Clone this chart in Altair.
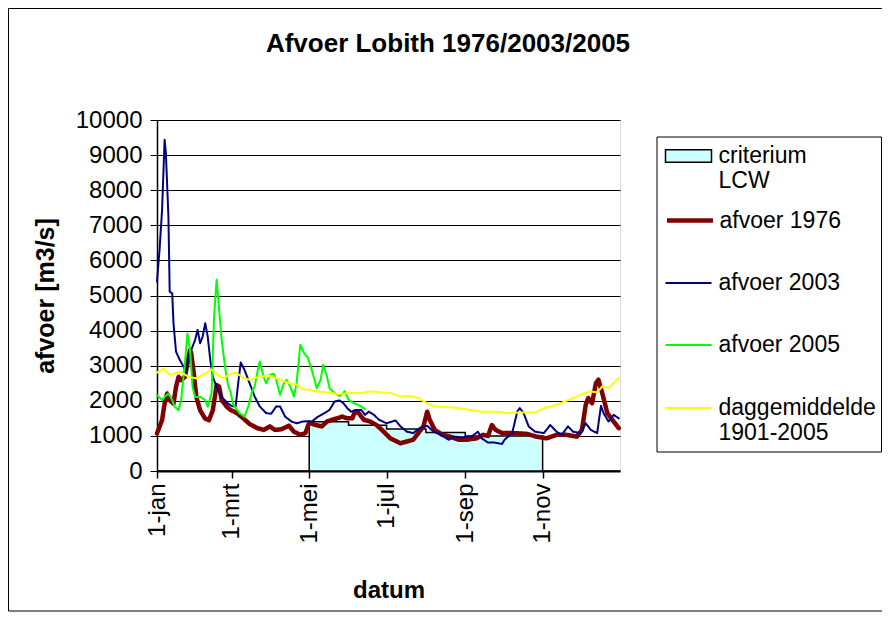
import altair as alt
import pandas as pd

# ---------------- data (day of year, 0 = 1 jan) ----------------
dag_1976 = [0, 4, 6, 8, 10, 13, 15, 17, 19, 22, 23, 26, 27, 29, 31, 34, 38, 41, 44, 47, 49, 51, 55, 58,
            63, 68, 73, 79, 84, 89, 93, 98, 104, 108, 113, 117, 120, 125, 130, 134, 138, 142, 146, 150,
            154, 156, 159, 163, 168, 173, 177, 184, 192, 197, 202, 206, 210, 213, 215, 219, 225, 231, 238,
            244, 252, 257, 261, 264, 267, 272, 281, 291, 299, 307, 315, 323, 331, 335, 338, 340, 343, 346,
            348, 351, 355, 360, 364]
afvoer_1976 = [1070, 1450, 1920, 2210, 2020, 1920, 2400, 2680, 2590, 2680, 2870, 3450, 3350, 2780, 2110,
               1730, 1490, 1450, 1730, 2450, 2400, 2020, 1830, 1740, 1650, 1500, 1340, 1220, 1170, 1270,
               1170, 1190, 1290, 1120, 1030, 1080, 1380, 1310, 1270, 1410, 1460, 1500, 1550, 1500, 1500,
               1690, 1650, 1460, 1410, 1310, 1180, 930, 790, 840, 890, 1080, 1270, 1690, 1460, 1170, 1030,
               980, 890, 890, 930, 1030, 1000, 1310, 1170, 1080, 1080, 1060, 980, 930, 1030, 1030, 980,
               1170, 1890, 2080, 1930, 2500, 2600, 2220, 1650, 1410, 1220]

dag_2003 = [0, 2, 4, 6, 7, 9, 10, 12, 13, 15, 18, 21, 23, 25, 27, 30, 32, 34, 36, 38, 40, 42, 44, 47, 51,
            56, 59, 62, 64, 66, 69, 73, 77, 81, 86, 90, 94, 97, 101, 106, 110, 115, 119, 122, 127, 132,
            136, 140, 144, 147, 150, 153, 157, 161, 164, 167, 171, 175, 181, 188, 192, 197, 202, 207, 213,
            218, 224, 230, 234, 240, 248, 253, 256, 261, 266, 272, 274, 280, 284, 286, 289, 293, 298, 305,
            310, 315, 319, 324, 328, 334, 338, 342, 347, 350, 352, 356, 360, 364]
afvoer_2003 = [5400, 6300, 7440, 9440, 9060, 7250, 5110, 5060, 4210, 3400, 3160, 2970, 2780, 3260, 3450,
               3730, 4020, 3640, 3830, 4210, 3830, 3160, 2680, 2400, 2110, 1920, 1850, 1840, 2500, 3090,
               2880, 2500, 2120, 1840, 1650, 1630, 1840, 1840, 1550, 1410, 1360, 1410, 1420, 1410, 1550,
               1650, 1740, 1980, 2010, 1930, 1790, 1690, 1740, 1740, 1600, 1690, 1600, 1460, 1360, 1440,
               1270, 1120, 1080, 1220, 1290, 1120, 1030, 890, 980, 960, 980, 1120, 930, 810, 810, 770, 890,
               1080, 1690, 1790, 1650, 1270, 1120, 1080, 1310, 1120, 1030, 1270, 1120, 1080, 1360, 1170,
               1080, 1860, 1650, 1410, 1600, 1500]

dag_2005 = [0, 4, 6, 9, 12, 14, 17, 19, 22, 24, 26, 28, 30, 34, 38, 40, 43, 45, 47, 49, 51, 54, 56, 58,
            60, 62, 65, 69, 72, 75, 77, 80, 81, 84, 86, 89, 92, 94, 97, 100, 102, 105, 108, 110, 113, 116,
            119, 122, 126, 129, 131, 134, 136, 140, 144, 148, 151, 155, 159, 164]
afvoer_2005 = [2160, 2020, 2110, 2210, 2020, 1830, 1730, 2020, 3070, 3920, 3450, 2400, 2110, 2110, 2020,
               1830, 2210, 4400, 5450, 4590, 3730, 2870, 2450, 2250, 1900, 1800, 1650, 1550, 1840, 2270,
               2410, 2980, 3120, 2690, 2500, 2740, 2770, 2600, 2170, 2500, 2600, 2410, 2120, 2500, 3600,
               3360, 3220, 2880, 2360, 2600, 3030, 2690, 2360, 2220, 2140, 2270, 2030, 1930, 1880, 1760]

dag_gem = [0, 5, 10, 18, 25, 31, 38, 43, 48, 52, 58, 62, 68, 73, 81, 89, 97, 104, 110, 115, 121, 125,
           133, 143, 151, 161, 169, 176, 184, 192, 199, 206, 213, 219, 228, 239, 246, 256, 267, 277, 288,
           298, 305, 315, 325, 334, 341, 347, 351, 356, 364]
afvoer_gem = [2800, 2920, 2730, 2830, 2680, 2640, 2780, 2890, 2730, 2640, 2760, 2810, 2650, 2600, 2690,
              2710, 2600, 2500, 2460, 2330, 2310, 2270, 2240, 2190, 2220, 2220, 2270, 2240, 2220, 2120,
              2140, 2080, 1930, 1840, 1820, 1790, 1740, 1690, 1690, 1650, 1670, 1670, 1790, 1890, 2030,
              2170, 2270, 2240, 2410, 2360, 2650]

crit_dag = [0, 120, 151, 181, 212, 243, 304, 365]
crit_waarde = [0, 1400, 1300, 1200, 1100, 1000, 0, 0]

tick_dagen = [0, 59, 120, 181, 243, 304]
tick_labels = ["1-jan", "1-mrt", "1-mei", "1-jul", "1-sep", "1-nov"]
y_ticks = [0, 1000, 2000, 3000, 4000, 5000, 6000, 7000, 8000, 9000, 10000]

reeks_namen = ["criterium LCW", "afvoer 1976", "afvoer 2003", "afvoer 2005", "daggemiddelde 1901-2005"]
reeks_labels = [["criterium", "LCW"], ["afvoer 1976"], ["afvoer 2003"], ["afvoer 2005"],
                ["daggemiddelde", "1901-2005"]]
reeks_kleuren = ["#CCFFFF", "#800000", "#000080", "#00FF00", "#FFFF00"]
reeks_breedte = [1.5, 4.5, 2, 2, 2]

FONT = "Liberation Sans"
W, H = 463, 351
LEG_X = 507.5
LEG_Y = [12, 75, 139, 201, 264]

label_expr = "[{}][indexof([{}], datum.value)]".format(
    ",".join("'" + t + "'" for t in tick_labels), ",".join(str(t) for t in tick_dagen))

x_scale = alt.Scale(domain=[0, 365], nice=False, zero=False)
y_scale = alt.Scale(domain=[0, 10000], nice=False)

x_axis = alt.Axis(values=tick_dagen, labelExpr=label_expr, labelAngle=-90, labelFont=FONT,
                  labelFontSize=24, labelColor="black", labelPadding=5, tickSize=7, tickColor="black",
                  tickWidth=1.5, domainColor="black", domainWidth=2, grid=False, title="datum",
                  titleFont=FONT, titleFontSize=24, titleFontWeight="bold", titleColor="black",
                  titleY=119, titleBaseline="middle", labelOverlap=False)
y_axis = alt.Axis(values=y_ticks, format="d", grid=True, gridColor="black", gridWidth=1,
                  gridOpacity=1, labelFont=FONT, labelFontSize=24, labelColor="black", labelPadding=8,
                  tickSize=7, tickColor="black", domainColor="black", domainWidth=1.5,
                  title="afvoer [m3/s]", titleFont=FONT, titleFontSize=25, titleFontWeight="bold",
                  titleColor="black", titleX=-112, titleY=H / 2, titleAngle=-90, titleAlign="center",
                  titleBaseline="middle", labelOverlap=False, tickCount=11)

X = alt.X("dag:Q", scale=x_scale, axis=x_axis)
Y = alt.Y("afvoer:Q", scale=y_scale, axis=y_axis)


def legend_for(i, **extra):
    lab = reeks_labels[i]
    expr = "[" + ",".join("'" + s + "'" for s in lab) + "]"
    return alt.Legend(orient="none", legendX=LEG_X, legendY=LEG_Y[i], title=None, padding=0,
                      symbolOffset=0, labelFont=FONT, labelFontSize=23,
                      labelColor="black", labelLimit=400, labelExpr=expr, symbolSize=2116, **extra)


# decorations: chart frame and legend box
deco = alt.Data(values=[{"k": 1}])
frame = alt.Chart(deco).mark_rect(filled=False, stroke="black", strokeWidth=1).encode(
    x=alt.value(-148.5), x2=alt.value(W + 320), y=alt.value(-111.5), y2=alt.value(H + 140))
legend_box = alt.Chart(deco).mark_rect(fill="white", stroke="black", strokeWidth=1).encode(
    x=alt.value(500), x2=alt.value(724.5), y=alt.value(17), y2=alt.value(332))

crit_df = pd.DataFrame({"dag": crit_dag, "afvoer": crit_waarde, "reeks": reeks_namen[0]})
area = alt.Chart(crit_df).mark_area(interpolate="step-after", stroke="black", strokeWidth=1.5,
                                    opacity=1, fillOpacity=1).encode(
    x=X, y=Y,
    fill=alt.Fill("reeks:N", scale=alt.Scale(domain=[reeks_namen[0]], range=[reeks_kleuren[0]]),
                  legend=legend_for(0, symbolType="M-1,-0.27H1V0.27H-1Z", symbolStrokeColor="black",
                                    symbolStrokeWidth=1.5, symbolFillColor=reeks_kleuren[0],
                                    labelOffset=6)),
)


def line_layer(i, dagen, waarden):
    df = pd.DataFrame({"dag": dagen, "afvoer": waarden, "reeks": reeks_namen[i]})
    extra_w = max(0, int(round(reeks_breedte[i])) - 2)
    return alt.Chart(df).mark_line(color=reeks_kleuren[i], strokeWidth=reeks_breedte[i],
                                   strokeJoin="round", strokeCap="round").encode(
        x=X, y=Y,
        strokeDash=alt.StrokeDash("reeks:N", scale=alt.Scale(domain=[reeks_namen[i]], range=[[1, 0]]),
                                  legend=legend_for(i, symbolType="stroke",
                                                    symbolStrokeColor=reeks_kleuren[i],
                                                    symbolStrokeWidth=reeks_breedte[i],
                                                    labelOffset=6 - extra_w)),
    )


l1976 = line_layer(1, dag_1976, afvoer_1976)
l2003 = line_layer(2, dag_2003, afvoer_2003)
l2005 = line_layer(3, dag_2005, afvoer_2005)
lgem = line_layer(4, dag_gem, afvoer_gem)

chart = alt.layer(frame, legend_box, area, l1976, l2003, l2005, lgem).resolve_scale(
    strokeDash="independent"
).resolve_legend(
    fill="independent", strokeDash="independent"
).properties(
    width=W, height=H,
    autosize=alt.AutoSizeParams(type="none"),
    padding={"left": 149, "top": 112, "right": 262, "bottom": 141},
    title=alt.TitleParams(text="Afvoer Lobith 1976/2003/2005", font=FONT, fontSize=26,
                          fontWeight="bold", color="black", anchor="middle", baseline="bottom",
                          dx=59.5, dy=75, offset=0),
).configure_view(
    fill="#C0C0C0", stroke="#808080", strokeWidth=2
).configure(background="white")

chart.save("out.html", embed_options={"renderer": "svg", "actions": False})
